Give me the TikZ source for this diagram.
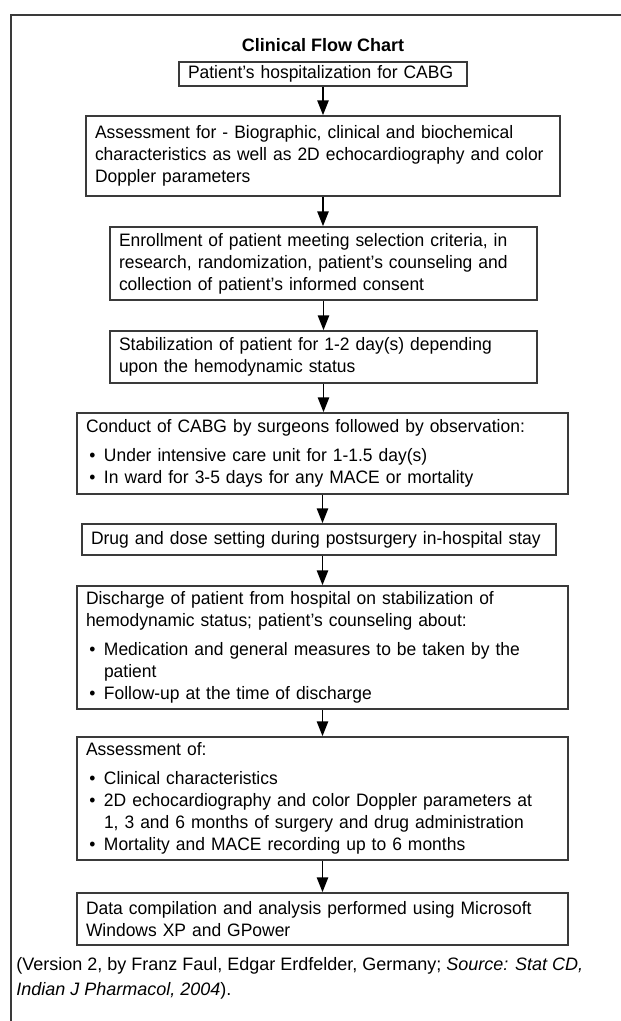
\documentclass[tikz,border=0pt]{standalone}
\usepackage{fontspec}
\setmainfont{Liberation Sans}
\newfontfamily\boxfont{Liberation Sans}[Ligatures=TeX, FakeStretch=0.97]
\usepackage{xcolor}
\usetikzlibrary{arrows.meta}
\definecolor{edgegray}{HTML}{3A3A3A}
\newcommand{\bitem}{\makebox[13.5pt][l]{\hspace{2.5pt}\textbullet}}
\newcommand{\bcont}{\hspace*{13.5pt}}

\begin{document}
\begin{tikzpicture}[x=0.75pt, y=-0.75pt,
  stage/.style={draw=edgegray, line width=1.3pt, text width=#1, align=left,
                inner xsep=6.75pt, inner ysep=0pt,
                font=\boxfont\fontsize{13.5}{16.5}\selectfont},
  ttl/.style={font=\fontsize{13.5}{16.5}\selectfont\bfseries},
  note/.style={font=\fontsize{13.5}{16.5}\selectfont, align=left, inner sep=0pt},
  arr/.style={-{Triangle[length=11pt, width=8.5pt]}, line width=1pt, black},
]
\useasboundingbox (0,0) rectangle (621,1021);

% --- outer frame (cut at the right and bottom) ---
\draw[edgegray, line width=1.5pt] (621,15) -- (11,15) -- (11,1021);

% --- stages ---
\node[ttl] (title) at (323,45) {Clinical Flow Chart};
\node[stage=202.5pt, minimum height=17.5pt] (b1) at (323,74)
  {Patient's hospitalization for CABG};
\node[stage=342pt, minimum height=60pt] (b2) at (323,156)
  {Assessment for - Biographic, clinical and biochemical\\
   characteristics as well as 2D echocardiography and color\\
   Doppler parameters};
\node[stage=306.75pt, minimum height=54.75pt] (b3) at (323.5,263.5)
  {Enrollment of patient meeting selection criteria, in\\
   research, randomization, patient's counseling and\\
   collection of patient's informed consent};
\node[stage=306.75pt, minimum height=39pt] (b4) at (323.5,357)
  {Stabilization of patient for 1-2 day(s) depending\\
   upon the hemodynamic status};
\node[stage=354.75pt, minimum height=60.75pt] (b5) at (322.5,453.5)
  {Conduct of CABG by surgeons followed by observation:\\[5.5pt]
   \bitem Under intensive care unit for 1-1.5 day(s)\\
   \bitem In ward for 3-5 days for any MACE or mortality};
\node[stage=342pt, minimum height=23.25pt] (b6) at (319,539.5)
  {Drug and dose setting during postsurgery in-hospital stay};
\node[stage=354.75pt, minimum height=92.25pt] (b7) at (322.5,647.5)
  {Discharge of patient from hospital on stabilization of\\
   hemodynamic status; patient's counseling about:\\[5.5pt]
   \bitem Medication and general measures to be taken by the\\
   \bcont patient\\
   \bitem Follow-up at the time of discharge};
\node[stage=354.75pt, minimum height=92.25pt] (b8) at (322.5,798.5)
  {Assessment of:\\[5.5pt]
   \bitem Clinical characteristics\\
   \bitem 2D echocardiography and color Doppler parameters at\\
   \bcont 1, 3 and 6 months of surgery and drug administration\\
   \bitem Mortality and MACE recording up to 6 months};
\node[stage=354.75pt, minimum height=39pt] (b9) at (322.5,919)
  {Data compilation and analysis performed using Microsoft\\
   Windows XP and GPower};

\node[note, anchor=west] (src) at (16,978)
  {(Version 2, by Franz Faul, Edgar Erdfelder, Germany; \textit{Source: Stat CD,}\\[2pt]
   \textit{Indian J Pharmacol, 2004}).};

% --- arrows ---
\draw[arr] (b1.south) -- (b1.south |- b2.north);
\draw[arr] (b2.south) -- (b2.south |- b3.north);
\draw[arr] (b3.south) -- (b3.south |- b4.north);
\draw[arr] (b4.south) -- (b4.south |- b5.north);
\draw[arr] (b5.south) -- (b5.south |- b6.north);
\draw[arr] (b5.south |- b6.south) -- (b5.south |- b7.north);
\draw[arr] (b7.south) -- (b7.south |- b8.north);
\draw[arr] (b8.south) -- (b8.south |- b9.north);
\end{tikzpicture}
\end{document}
